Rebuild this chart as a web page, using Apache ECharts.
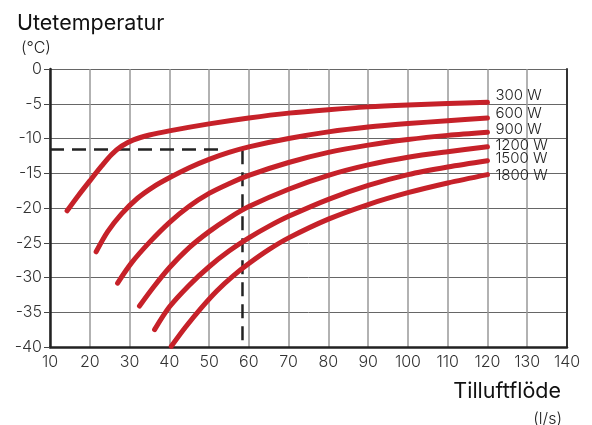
<!DOCTYPE html>
<html>
<head>
<meta charset="utf-8">
<script src="https://cdn.jsdelivr.net/npm/echarts@6/dist/echarts.min.js"></script>
<style>
html,body{margin:0;padding:0;background:#fff;}
#chart{width:592px;height:425px;}
</style>
</head>
<body>
<div id="chart"></div>
<script>
// ---- data ----
var seriesNames = ['300 W', '600 W', '900 W', '1200 W', '1500 W', '1800 W'];
var curve300 = [[14.3,-20.4],[17,-18.3],[20,-16.1],[23,-13.95],[25.5,-12.3],[28,-11.1],[31,-10.2],[35,-9.5],[40,-8.9],[50,-7.9],[60,-7.05],[70,-6.35],[80,-5.85],[90,-5.45],[100,-5.18],[110,-4.97],[120,-4.8]];
var curve600 = [[21.6,-26.3],[24.5,-23.4],[28,-20.85],[32,-18.6],[36,-16.95],[40,-15.65],[45,-14.2],[50,-13.0],[55,-12.0],[60,-11.2],[70,-10.0],[80,-9.05],[90,-8.35],[100,-7.85],[110,-7.45],[120,-7.05]];
var curve900 = [[27,-30.8],[30.5,-27.9],[35,-24.95],[40,-22.1],[45,-19.75],[50,-17.9],[55,-16.5],[60,-15.3],[70,-13.45],[80,-12.0],[90,-10.95],[100,-10.15],[110,-9.55],[120,-9.1]];
var curve1200 = [[32.5,-34.1],[36,-31.4],[40,-28.6],[45,-25.7],[50,-23.4],[55,-21.45],[60,-19.8],[70,-17.3],[80,-15.3],[90,-13.8],[100,-12.7],[110,-11.9],[120,-11.2]];
var curve1500 = [[36.3,-37.5],[40,-34.25],[45,-31.1],[50,-28.45],[55,-26.2],[60,-24.3],[65,-22.65],[70,-21.2],[80,-18.75],[90,-16.75],[100,-15.2],[110,-14.1],[120,-13.2]];
var curve1800 = [[40.5,-39.9],[44,-37.2],[48,-34.4],[52,-31.9],[56,-29.8],[60,-28.0],[65,-26.0],[70,-24.3],[80,-21.6],[90,-19.5],[100,-17.8],[110,-16.4],[120,-15.2]];
var curves = [curve300, curve600, curve900, curve1200, curve1500, curve1800];
var refHorizontal = [[10,-11.6],[52.5,-11.6]];
var refVertical = [[58.4,-11.7],[58.4,-40]];
var xTitle = 'Tilluftflöde', xUnit = '(l/s)';
var yTitle = 'Utetemperatur', yUnit = '(°C)';

// ---- styles ----
var labelDy = [-6.5, -5, -2.3, -1.6, -2, 0.7];
var FONT = 'Inter';
var RED = '#c62129';

var series = [
  {type:'line', data: refHorizontal, symbol:'none', silent:true, z:1,
   lineStyle:{color:'#222', width:2.5, type:[14,8]}},
  {type:'line', data: refVertical, symbol:'none', silent:true, z:1,
   lineStyle:{color:'#222', width:2.5, type:[14,8]}}
];
curves.forEach(function(c, i){
  series.push({
    type:'line', name: seriesNames[i], data:c, symbol:'none', z:3,
    smooth:0.3,
    lineStyle:{color:RED, width:5, cap:'round', join:'round'},
    endLabel:{show:true, formatter: seriesNames[i], distance:8, offset:[0, labelDy[i]],
      color:'#222', fontFamily:FONT, fontSize:15, fontWeight:300}
  });
});

var chart = echarts.init(document.getElementById('chart'), null, {renderer:'canvas'});
chart.setOption({
  animation:false,
  backgroundColor:'#fff',
  textStyle:{fontFamily:FONT},
  title:[
    {text:yTitle, left:12, top:8, textStyle:{fontFamily:FONT, fontSize:21.5, fontWeight:400, color:'#111'}},
    {text:yUnit, left:16, top:35, textStyle:{fontFamily:FONT, fontSize:16, fontWeight:300, color:'#222'}},
    {text:xTitle, right:26, top:376, textStyle:{fontFamily:FONT, fontSize:21.5, fontWeight:400, color:'#111'}},
    {text:xUnit, right:25, top:406, textStyle:{fontFamily:FONT, fontSize:16, fontWeight:300, color:'#222'}}
  ],
  grid:{left:50, right:25, top:69, bottom:78, containLabel:false},
  xAxis:{
    type:'value', min:10, max:140, interval:10,
    axisLine:{show:true, onZero:false, lineStyle:{color:'#222', width:2.5}},
    axisTick:{show:false},
    axisLabel:{color:'#333', fontFamily:FONT, fontSize:16, fontWeight:300, margin:7},
    splitLine:{show:true, lineStyle:{color:'#999', width:1.5}}
  },
  yAxis:[{
    type:'value', min:-40, max:0, interval:5,
    axisLine:{show:true, onZero:false, lineStyle:{color:'#222', width:2.5}},
    axisTick:{show:true, length:6, lineStyle:{color:'#444', width:1}},
    axisLabel:{color:'#333', fontFamily:FONT, fontSize:16, fontWeight:300, margin:8},
    splitLine:{show:true, lineStyle:{color:'#666', width:1}}
  },{
    type:'value', min:-40, max:0, interval:5, position:'right',
    axisLine:{show:true, onZero:false, lineStyle:{color:'#333', width:2}},
    axisTick:{show:false}, axisLabel:{show:false}, splitLine:{show:false}
  }],
  series: series
});
</script>
</body>
</html>
